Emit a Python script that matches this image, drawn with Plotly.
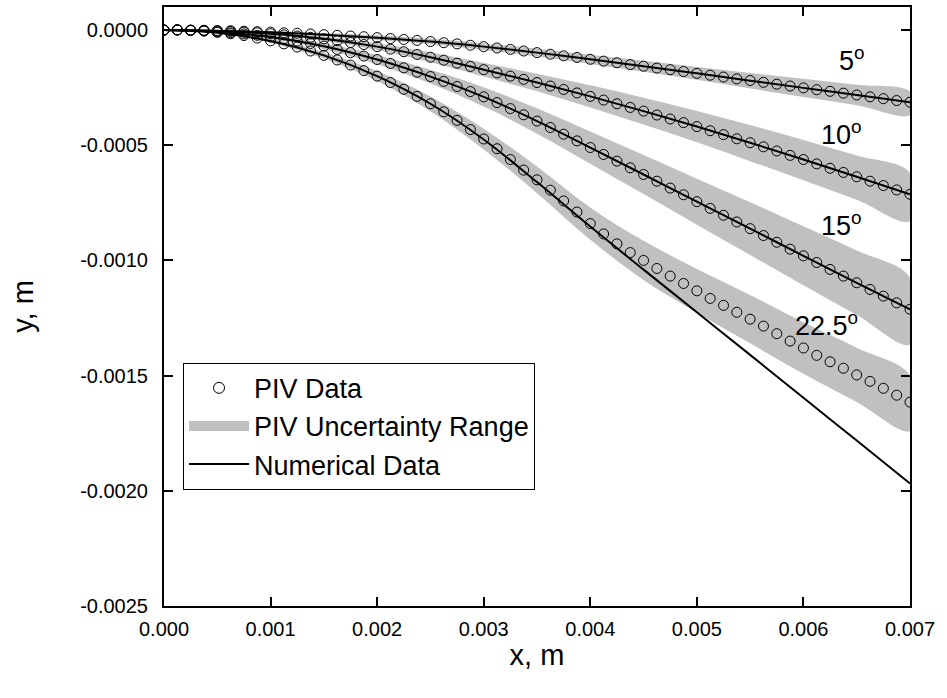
import plotly.graph_objects as go

# ---------------- data (x in metres, y values in micrometres -> converted to metres) ----------------
UM = 1e-6

x_piv = [0.000000, 0.000125, 0.000250, 0.000375, 0.000500, 0.000625, 0.000750, 0.000875,
         0.001000, 0.001125, 0.001250, 0.001375, 0.001500, 0.001625, 0.001750, 0.001875,
         0.002000, 0.002125, 0.002250, 0.002375, 0.002500, 0.002625, 0.002750, 0.002875,
         0.003000, 0.003125, 0.003250, 0.003375, 0.003500, 0.003625, 0.003750, 0.003875,
         0.004000, 0.004125, 0.004250, 0.004375, 0.004500, 0.004625, 0.004750, 0.004875,
         0.005000, 0.005125, 0.005250, 0.005375, 0.005500, 0.005625, 0.005750, 0.005875,
         0.006000, 0.006125, 0.006250, 0.006375, 0.006500, 0.006625, 0.006750, 0.006875,
         0.007000]

piv_5deg_um = [0, 1, 0, -1, -2, -3, -5, -7, -9, -12, -14, -17, -20, -23, -26, -29,
               -33, -37, -41, -45, -50, -55, -60, -66, -72, -78, -84, -91, -98, -105,
               -112, -119, -127, -135, -142, -150, -157, -165, -172, -180, -188, -196,
               -204, -212, -219, -227, -235, -243, -251, -259, -266, -274, -282, -290,
               -298, -306, -313]

piv_10deg_um = [0, 0, -1, -2, -4, -6, -9, -12, -16, -21, -26, -32, -38, -46, -54, -63,
                -72, -83, -94, -106, -118, -131, -144, -158, -172, -186, -200, -214, -228,
                -243, -258, -273, -288, -304, -320, -336, -352, -369, -386, -402, -419,
                -437, -454, -472, -489, -507, -525, -544, -562, -581, -600, -618, -637,
                -656, -675, -694, -713]

piv_15deg_um = [0, 0, -2, -4, -8, -12, -17, -23, -30, -38, -48, -58, -70, -84, -98, -113,
                -128, -145, -164, -183, -202, -223, -245, -267, -290, -315, -341, -368,
                -395, -423, -452, -481, -510, -540, -569, -598, -627, -656, -686, -715,
                -745, -774, -804, -833, -862, -892, -921, -951, -980, -1009, -1039, -1068,
                -1097, -1126, -1155, -1184, -1212]

piv_22deg_um = [0, 1, -1, -4, -10, -16, -24, -35, -47, -60, -74, -91, -110, -130, -152, -176,
                -200, -228, -257, -288, -320, -355, -392, -432, -473, -515, -562, -608, -650,
                -695, -742, -790, -840, -885, -928, -966, -1000, -1035, -1068, -1100, -1132,
                -1165, -1195, -1225, -1255, -1285, -1318, -1350, -1380, -1412, -1440, -1468,
                -1497, -1525, -1555, -1585, -1615]

x_coarse = [0.0000, 0.0005, 0.0010, 0.0015, 0.0020, 0.0025, 0.0030, 0.0035,
            0.0040, 0.0045, 0.0050, 0.0055, 0.0060, 0.0065, 0.0070]

num_5deg_um = [0, -3, -10, -20, -33, -50, -72, -98, -127, -157, -188, -220, -251, -282, -314]
num_10deg_um = [0, -4, -16, -38, -72, -118, -172, -228, -288, -352, -419, -489, -562, -637, -713]
num_15deg_um = [0, -8, -30, -70, -128, -202, -290, -395, -510, -627, -745, -862, -980, -1097, -1212]
num_22deg_um = [0, -12, -48, -110, -200, -320, -475, -660, -853, -1040, -1225, -1410, -1596, -1782, -1968]

band_5deg_hi_um = [0, 0, -5, -13, -23, -38, -57, -81, -107, -133, -160, -186, -211, -237, -268]
band_5deg_lo_um = [0, -4, -13, -27, -43, -62, -87, -115, -147, -181, -216, -254, -291, -327, -368]
band_10deg_hi_um = [0, -1, -10, -28, -57, -96, -142, -190, -240, -294, -351, -412, -477, -545, -620]
band_10deg_lo_um = [0, -7, -22, -48, -87, -140, -202, -266, -336, -410, -487, -569, -652, -737, -830]
band_15deg_hi_um = [0, -4, -22, -57, -108, -172, -248, -340, -440, -542, -645, -747, -852, -957, -1075]
band_15deg_lo_um = [0, -12, -38, -83, -148, -232, -332, -450, -580, -712, -845, -977, -1108, -1237, -1365]
band_22deg_hi_um = [0, -6, -39, -96, -178, -288, -428, -592, -770, -915, -1037, -1150, -1268, -1379, -1500]
band_22deg_lo_um = [0, -14, -55, -124, -222, -352, -518, -708, -910, -1085, -1227, -1360, -1492, -1615, -1740]

angle_labels = ["5<sup>o</sup>", "10<sup>o</sup>", "15<sup>o</sup>", "22.5<sup>o</sup>"]

x_tickvals = [0.000, 0.001, 0.002, 0.003, 0.004, 0.005, 0.006, 0.007]
x_ticktext = ["0.000", "0.001", "0.002", "0.003", "0.004", "0.005", "0.006", "0.007"]
y_tickvals = [0.0000, -0.0005, -0.0010, -0.0015, -0.0020, -0.0025]
y_ticktext = ["0.0000", "-0.0005", "-0.0010", "-0.0015", "-0.0020", "-0.0025"]

# ---------------- figure ----------------
FONT = "Liberation Sans, Arial, sans-serif"
BAND = "#c0c0c0"

def m(vals):
    return [v * UM for v in vals]

fig = go.Figure()

bands = [(band_5deg_hi_um, band_5deg_lo_um), (band_10deg_hi_um, band_10deg_lo_um),
         (band_15deg_hi_um, band_15deg_lo_um), (band_22deg_hi_um, band_22deg_lo_um)]
for hi, lo in bands:
    fig.add_trace(go.Scatter(
        x=x_coarse + x_coarse[::-1], y=m(hi) + m(lo)[::-1],
        fill="toself", fillcolor=BAND, mode="lines", line=dict(width=0, color=BAND, shape="spline"),
        showlegend=False, hoverinfo="skip"))

for ys in [num_5deg_um, num_10deg_um, num_15deg_um, num_22deg_um]:
    fig.add_trace(go.Scatter(x=x_coarse, y=m(ys), mode="lines",
                             line=dict(color="black", width=2, shape="spline"),
                             showlegend=False))

for ys in [piv_5deg_um, piv_10deg_um, piv_15deg_um, piv_22deg_um]:
    fig.add_trace(go.Scatter(x=x_piv, y=m(ys), mode="markers",
                             marker=dict(symbol="circle-open", size=10, color="black",
                                         line=dict(width=1, color="black")),
                             showlegend=False))

# legend entries
fig.add_trace(go.Scatter(x=[None], y=[None], mode="markers", name="PIV Data",
                         marker=dict(symbol="circle-open", size=11, color="black",
                                     line=dict(width=1, color="black"))))
fig.add_trace(go.Scatter(x=[None], y=[None], mode="lines", name="PIV Uncertainty Range",
                         line=dict(color=BAND, width=20)))
fig.add_trace(go.Scatter(x=[None], y=[None], mode="lines", name="Numerical Data",
                         line=dict(color="black", width=2)))

ann_pos = [(0.00646, -0.000125), (0.00636, -0.000447), (0.00636, -0.00084), (0.00622, -0.001276)]
for (ax, ay), txt in zip(ann_pos, angle_labels):
    fig.add_annotation(x=ax, y=ay, text=txt, showarrow=False,
                       font=dict(family=FONT, size=27, color="black"))

axis_common = dict(showline=True, linecolor="black", linewidth=2, mirror="ticks",
                   ticks="inside", ticklen=9, tickwidth=2, tickcolor="black",
                   showgrid=False, zeroline=False,
                   tickfont=dict(family=FONT, size=20, color="black"))

fig.update_xaxes(range=[0, 0.007], tickvals=x_tickvals, ticktext=x_ticktext,
                 ticklabelstandoff=4,
                 title=dict(text="x, m", font=dict(family=FONT, size=29, color="black"), standoff=6),
                 **axis_common)
fig.update_yaxes(range=[-0.0025, 0.0001], tickvals=y_tickvals, ticktext=y_ticktext,
                 ticklabelstandoff=10,
                 title=dict(text="y, m", font=dict(family=FONT, size=29, color="black"), standoff=38),
                 **axis_common)

fig.update_layout(
    width=947, height=698,
    margin=dict(l=164, r=37, t=5, b=92),
    plot_bgcolor="white", paper_bgcolor="white",
    font=dict(family=FONT, color="black"),
    legend=dict(x=0.0255, y=0.194, xanchor="left", yanchor="bottom",
                bgcolor="white", bordercolor="black", borderwidth=1,
                font=dict(family=FONT, size=27, color="black"),
                itemwidth=60, tracegroupgap=0),
)

fig.write_html("out.html")
